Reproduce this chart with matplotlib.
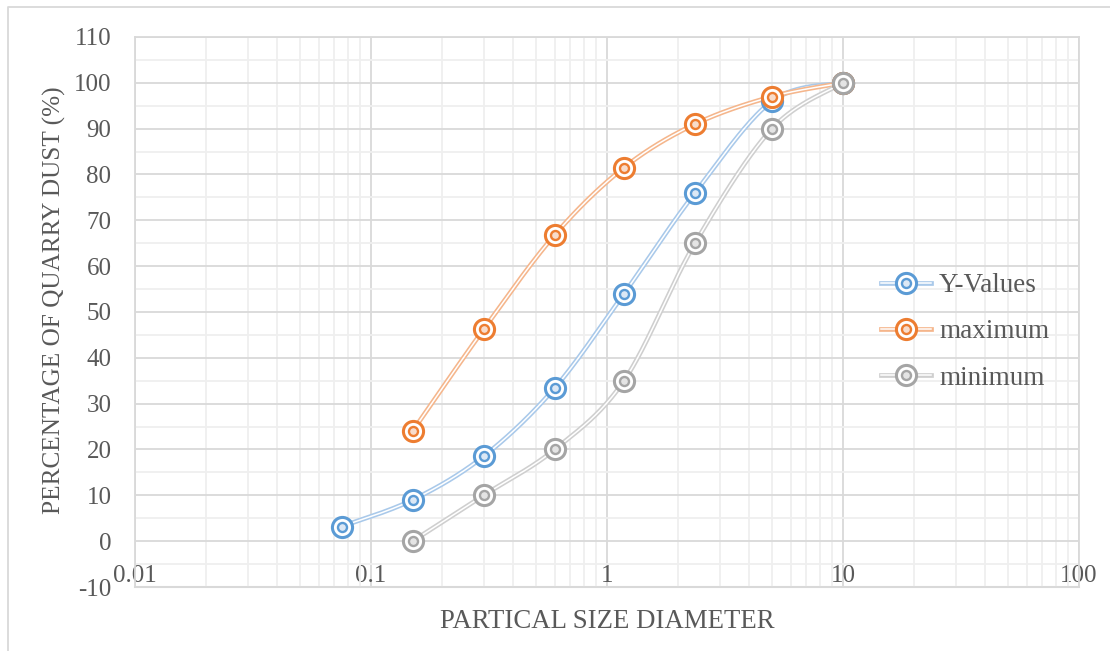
import numpy as np
import matplotlib
matplotlib.use('Agg')
import matplotlib.pyplot as plt
from matplotlib.lines import Line2D
from matplotlib.legend_handler import HandlerTuple

plt.rcParams['axes.unicode_minus'] = False

# sieve sizes (mm) and percentage passing
sizes = [0.075, 0.15, 0.3, 0.6, 1.18, 2.36, 5, 10]
y_values = [3.2, 9.0, 18.5, 33.4, 54.0, 76.0, 96.0, 100.0]
max_sizes = [0.15, 0.3, 0.6, 1.18, 2.36, 5, 10]
maximum = [24.0, 46.2, 66.8, 81.5, 91.0, 97.0, 100.0]
min_sizes = [0.15, 0.3, 0.6, 1.18, 2.36, 5, 10]
minimum = [0.0, 10.0, 20.0, 35.0, 65.0, 90.0, 100.0]

x_ticks = [0.01, 0.1, 1, 10, 100]
x_tick_labels = ['0.01', '0.1', '1', '10', '100']
y_ticks = list(range(-10, 111, 10))

FONT = 'Liberation Serif'
TEXT = '#595959'
MAJOR = '#D9D9D9'
MINOR = '#EFEFEF'

series = [
    ('Y-Values', sizes, y_values, '#5B9BD5', '#A9C9EA', '#DCE8F5'),
    ('maximum', max_sizes, maximum, '#ED7D31', '#F5B68C', '#F8DCCB'),
    ('minimum', min_sizes, minimum, '#A5A5A5', '#CFCFCF', '#E4E4E4'),
]


def smooth(xs, ys, n=40):
    # Excel-like smoothed line (bezier through the points), done in screen-ish units
    u = np.log10(xs) * 236.0
    v = np.asarray(ys, dtype=float) * 4.58
    P = np.column_stack([u, v])
    out = []
    for i in range(len(P) - 1):
        p0 = P[i - 1] if i > 0 else P[i]
        p1, p2 = P[i], P[i + 1]
        p3 = P[i + 2] if i + 2 < len(P) else P[i + 1]
        c1 = p1 + (p2 - p0) / 6.0
        c2 = p2 - (p3 - p1) / 6.0
        t = np.linspace(0, 1, n)[:, None]
        seg = (1 - t) ** 3 * p1 + 3 * (1 - t) ** 2 * t * c1 + 3 * (1 - t) * t ** 2 * c2 + t ** 3 * p2
        out.append(seg if i == 0 else seg[1:])
    out = np.vstack(out)
    return 10 ** (out[:, 0] / 236.0), out[:, 1] / 4.58


fig = plt.figure(figsize=(11.1, 6.51), dpi=100)
ax = fig.add_axes([135 / 1110, 1 - 587 / 651, (1079 - 135) / 1110, (587 - 37) / 651])

ax.set_xscale('log')
ax.set_xlim(0.01, 100)
ax.set_ylim(-10, 110)

# grid
ax.set_xticks(x_ticks)
ax.set_xticklabels(x_tick_labels)
minor_x = [m * 10.0 ** e for e in range(-2, 2) for m in range(2, 10)]
ax.set_xticks(minor_x, minor=True)
ax.set_yticks(y_ticks)
ax.set_yticks(list(range(-5, 110, 10)), minor=True)
ax.grid(which='minor', color=MINOR, lw=1.3, zorder=0)
ax.grid(which='major', color=MAJOR, lw=1.3, zorder=0)
ax.set_axisbelow(True)

for s in ['left', 'right', 'top']:
    ax.spines[s].set_color(MAJOR)
    ax.spines[s].set_linewidth(1.3)
ax.spines['bottom'].set_position(('data', 0))
ax.spines['bottom'].set_visible(False)
ax.axhline(-10, color=MAJOR, lw=1.5, clip_on=False, zorder=0)

ax.tick_params(which='both', length=0)
ax.tick_params(axis='x', which='minor', labelbottom=False)
ax.tick_params(axis='x', pad=17, labelsize=18, labelcolor=TEXT)
ax.tick_params(axis='y', pad=17, labelsize=18, labelcolor=TEXT)
for lab in ax.get_xticklabels() + ax.get_yticklabels():
    lab.set_fontfamily(FONT)

handles = []
for name, xs, ys, col, line_col, fill in series:
    sx, sy = smooth(xs, ys)
    ax.plot(sx, sy, color=line_col, lw=3.4, solid_capstyle='butt', zorder=2)
    ax.plot(sx, sy, color='white', lw=1.1, solid_capstyle='butt', zorder=2)
    ax.plot(xs, ys, 'o', ms=14.5, mfc='white', mec=col, mew=2.2, zorder=3)
    ax.plot(xs, ys, 'o', ms=6.5, mfc=fill, mec=col, mew=1.7, zorder=3)
    h = (Line2D([], [], color=line_col, lw=3.4),
         Line2D([], [], color='white', lw=1.1),
         Line2D([], [], marker='o', ls='', ms=14.5, mfc='white', mec=col, mew=2.2),
         Line2D([], [], marker='o', ls='', ms=6.5, mfc=fill, mec=col, mew=1.7))
    handles.append(h)

leg = fig.legend(handles, [s[0] for s in series], loc='center left',
                 bbox_to_anchor=(881 / 1110, 1 - 332 / 651),
                 handler_map={tuple: HandlerTuple(ndivide=1, pad=0)},
                 frameon=False, borderpad=0, borderaxespad=0,
                 handlelength=1.85, handletextpad=0.3, labelspacing=0.78,
                 prop={'family': FONT, 'size': 19.5})
for t in leg.get_texts():
    t.set_color(TEXT)

fig.text(54 / 1110, 1 - 300 / 651, 'PERCENTAGE OF QUARRY DUST (%)', rotation=90,
         ha='center', va='center', fontsize=18.2, family=FONT, color=TEXT)
fig.text(607 / 1110, 1 - 622 / 651, 'PARTICAL SIZE DIAMETER',
         ha='center', va='center', fontsize=19.3, family=FONT, color=TEXT)

# outer chart border
fig.add_artist(Line2D([8 / 1110, 8 / 1110, 1.0], [0.0, 1 - 7 / 651, 1 - 7 / 651],
                      transform=fig.transFigure, color=MAJOR, lw=1.3))

fig.savefig('out.png', dpi=100)
